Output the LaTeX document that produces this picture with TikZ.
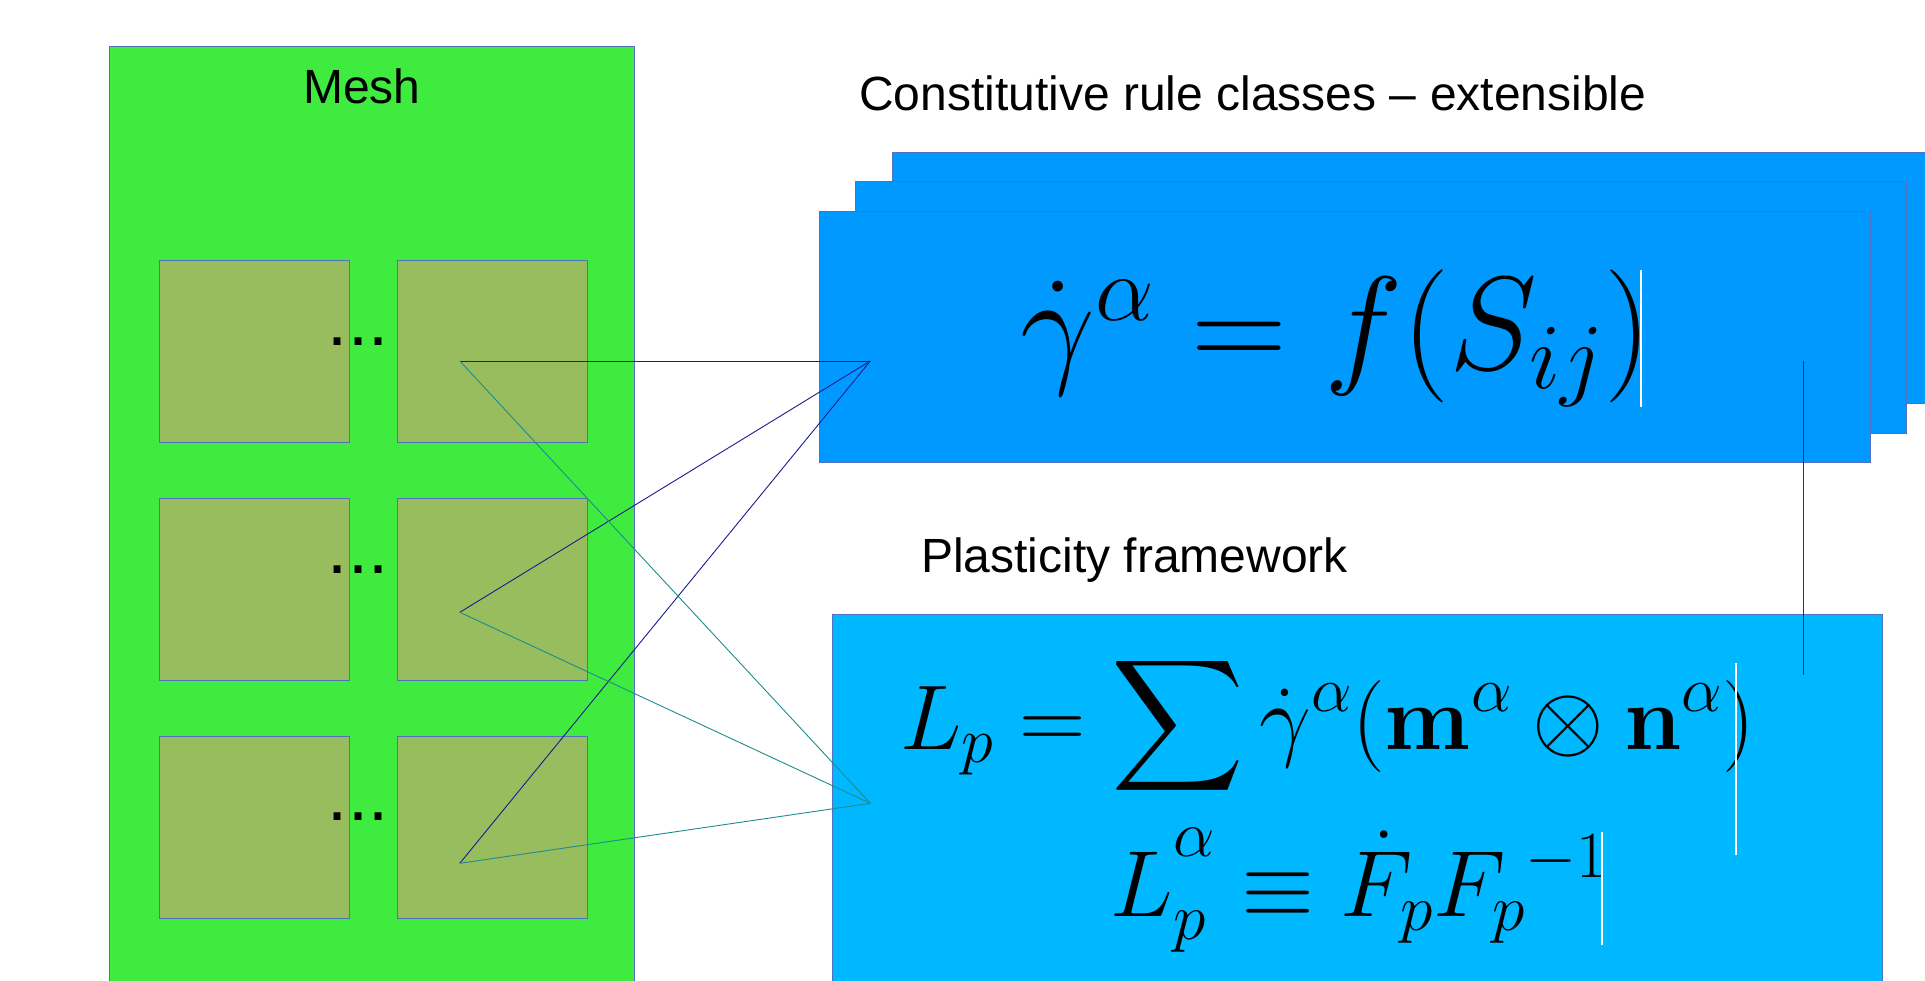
\RequirePackage{fix-cm}
\documentclass[tikz,border=0pt]{standalone}
\usepackage[no-math]{fontspec}
\setmainfont{Liberation Sans}
\usepackage{amsmath,amssymb}
\usetikzlibrary{positioning}

\definecolor{meshgreen}{HTML}{3FEB3F}
\definecolor{cellgreen}{HTML}{97BD5F}
\definecolor{edgeblue}{HTML}{5070C0}
\definecolor{ruleblue}{HTML}{0099FF}
\definecolor{frameblue}{HTML}{00B8FF}
\definecolor{navyline}{HTML}{1C1C8C}
\definecolor{tealline}{HTML}{1E8C8C}

\begin{document}
\begin{tikzpicture}[x=1pt,y=-1pt,
  box/.style={draw=edgeblue,line width=0.8pt,anchor=north west,inner sep=0pt,outer sep=0pt},
  cell/.style={box,fill=cellgreen,minimum width=190pt,minimum height=182pt},
  rulecard/.style={box,fill=ruleblue,minimum width=1051pt,minimum height=251.5pt},
  caption/.style={anchor=base west,inner sep=0pt,font=\fontsize{48}{56}\selectfont},
  dots/.style={anchor=base,inner sep=0pt,font=\fontsize{72}{84}\selectfont},
  eqn/.style={anchor=base,inner sep=0pt},
  toRule/.style={draw=navyline,line width=0.9pt},
  toLp/.style={draw=tealline,line width=0.9pt},
  cursor/.style={draw=white,line width=1.4pt}]
  \useasboundingbox (0,0) rectangle (1925,980);
  \clip (0,0) rectangle (1925,980);

  % mesh with its elements
  \node[box,fill=meshgreen,minimum width=525.4pt,minimum height=960pt] (mesh) at (109.3,46.7) {};
  \node[anchor=base,inner sep=0pt,font=\fontsize{48}{56}\selectfont] (meshlabel) at (362,103) {Mesh};
  \node[cell] (c11) at (159.6,260.3) {};
  \node[cell] (c12) at (397.8,260.3) {};
  \node[cell] (c21) at (159.6,498.4) {};
  \node[cell] (c22) at (397.8,498.4) {};
  \node[cell] (c31) at (159.6,736.6) {};
  \node[cell] (c32) at (397.8,736.6) {};
  \node[dots] (d1) at (358,345.6) {...};
  \node[dots] (d2) at (358,573.6) {...};
  \node[dots] (d3) at (358,820.6) {...};

  % stack of constitutive rules
  \node[caption] (rulelabel) at (859,110) {Constitutive rule classes – extensible};
  \node[rulecard] (rule3) at (892.5,152.2) {};
  \node[rulecard] (rule2) at (855.7,181.7) {};
  \node[rulecard] (rule1) at (818.9,211.2) {};
  \node[eqn,font=\fontsize{133}{153}\selectfont] (flow) at (1336,369) {$\dot{\gamma}^{\alpha} = f(S_{ij})$};
  \draw[cursor] (1641,270) -- (1641,407);

  % plasticity framework
  \node[caption] (framelabel) at (921,572.7) {Plasticity framework};
  \node[box,fill=frameblue,minimum width=1050.7pt,minimum height=400pt] (frame) at (832,614.3) {};
  \node[eqn,font=\fontsize{92}{106}\selectfont] (lp) at (1328,749)
    {$\displaystyle L_p = \sum \dot{\gamma}^{\alpha}(\mathbf{m}^{\alpha}\otimes\mathbf{n}^{\alpha})$};
  \node[eqn,font=\fontsize{94}{108}\selectfont] (lpa) at (1359,916.5)
    {$L_p^{\raisebox{26pt}{$\scriptstyle\alpha$}} \equiv \dot{F}_p {F_p}^{-1}$};
  \draw[cursor] (1736,663) -- (1736,855);
  \draw[cursor] (1602,832) -- (1602,945);

  % links
  \coordinate (pA) at (459.8,361);
  \coordinate (pB) at (459.8,612.3);
  \coordinate (pC) at (459.8,863.3);
  \coordinate (t1) at (870.3,361);
  \coordinate (t2) at (870.3,803.3);
  \draw[toRule] (pA) -- (t1);
  \draw[toRule] (pB) -- (t1);
  \draw[toRule] (pC) -- (t1);
  \draw[toLp] (pA) -- (t2);
  \draw[toLp] (pB) -- (t2);
  \draw[toLp] (pC) -- (t2);
  \coordinate (s1) at (1803,361);
  \coordinate (s2) at (1803,675);
  \draw[black!80,line width=0.9pt] (s1) -- (s2);
\end{tikzpicture}
\end{document}
